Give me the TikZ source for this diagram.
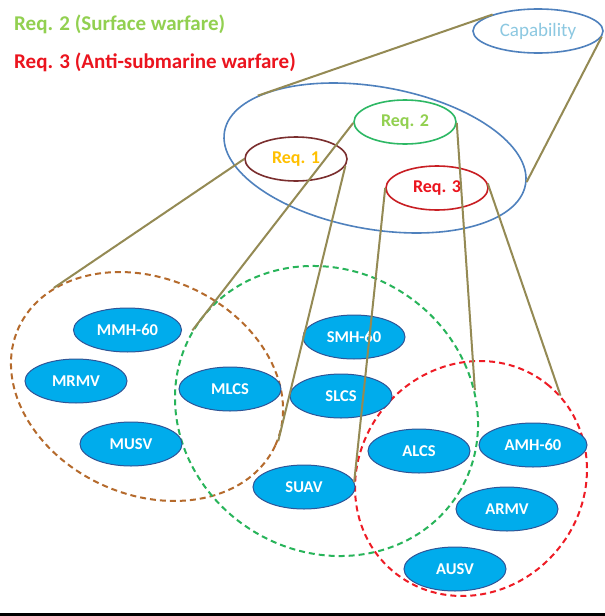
\documentclass[tikz,border=0pt]{standalone}
\usepackage{fontspec}
\setmainfont{Carlito}
\usetikzlibrary{shapes.geometric}

\definecolor{linkolive}{RGB}{148,138,84}
\definecolor{capblue}{RGB}{79,129,189}
\definecolor{captext}{RGB}{140,200,225}
\definecolor{airring}{RGB}{122,46,46}
\definecolor{airtext}{RGB}{255,192,0}
\definecolor{surfring}{RGB}{45,184,100}
\definecolor{surftext}{RGB}{146,208,80}
\definecolor{asuwring}{RGB}{200,30,35}
\definecolor{asuwtext}{RGB}{235,20,30}
\definecolor{airdash}{RGB}{181,106,44}
\definecolor{surfdash}{RGB}{40,180,90}
\definecolor{asuwdash}{RGB}{238,28,37}
\definecolor{assetfill}{RGB}{0,172,236}
\definecolor{assetedge}{RGB}{47,85,151}

\begin{document}
\begin{tikzpicture}[x=1pt,y=-1pt,
  connector/.style={draw=linkolive, line width=2pt},
  reqring/.style={ellipse, draw, line width=1.6pt, minimum width=102, minimum height=44,
    inner sep=0pt, font=\bfseries\fontsize{18}{18}\selectfont},
  groupring/.style={ellipse, draw, line width=2pt, dash pattern=on 6pt off 4pt, inner sep=0pt},
  asset/.style={ellipse, fill=assetfill, draw=assetedge, line width=1pt,
    minimum width=102, minimum height=44, inner sep=0pt, text=white,
    font=\bfseries\fontsize{16.5}{16.5}\selectfont},
  legend/.style={anchor=west, inner sep=0pt, font=\bfseries\fontsize{21}{21}\selectfont}]

\useasboundingbox (0,0) rectangle (605,616);
\fill[white] (0,0) rectangle (605,616);

% legend
\node[legend, text=surftext] (legsurf) at (14,24) {Req. 2 (Surface warfare)};
\node[legend, text=asuwtext] (legasuw) at (14,62) {Req. 3 (Anti-submarine warfare)};

% capability and its requirement set
\node[ellipse, draw=capblue, line width=1.6pt, minimum width=130, minimum height=44,
  inner sep=0pt, text=captext, font=\fontsize{19}{19}\selectfont] (cap) at (538,31) {Capability};
\node[ellipse, draw=capblue, line width=1.6pt, minimum width=305.6, minimum height=142.4,
  inner sep=0pt, rotate=-10] (reqset) at (375,158) {};

\node[reqring, draw=airring, text=airtext] (req1) at (296,159) {Req. 1};
\node[reqring, draw=surfring, text=surftext] (req2) at (405,122) {Req. 2};
\node[reqring, draw=asuwring, text=asuwtext] (req3) at (437,188) {Req. 3};

% asset groups
\node[groupring, draw=airdash, minimum width=282.4, minimum height=216, rotate=-24.6] (airG) at (147,386.5) {};
\node[groupring, draw=surfdash, minimum width=311, minimum height=281.4, rotate=-32] (surfG) at (326.5,411) {};
\node[groupring, draw=asuwdash, minimum width=242.4, minimum height=224.2, rotate=49.8] (asuwG) at (471,478.5) {};

% assets
\node[asset, minimum width=108] (mmh) at (127.5,330) {MMH-60};
\node[asset] (mrmv) at (76,381) {MRMV};
\node[asset] (musv) at (131,444) {MUSV};
\node[asset] (mlcs) at (230,389) {MLCS};
\node[asset] (smh) at (354,337) {SMH-60};
\node[asset] (slcs) at (341,396) {SLCS};
\node[asset] (suav) at (304,487) {SUAV};
\node[asset] (alcs) at (419,451) {ALCS};
\node[asset, minimum width=108] (amh) at (533,445) {AMH-60};
\node[asset] (armv) at (507,509) {ARMV};
\node[asset] (ausv) at (455,569) {AUSV};

% projection lines
\draw[connector] (cap.160) -- (reqset.162);
\draw[connector] (cap.355) -- (reqset.1);
\draw[connector] (req1.180) -- (airG.158);
\draw[connector] (req1.352) -- (airG.2);
\draw[connector] (req2.181) -- (surfG.181);
\draw[connector] (req2.359) -- (surfG.40);
\draw[connector] (req3.180) -- (asuwG.132);
\draw[connector] (req3.5) -- (asuwG.353);

% bottom rule
\fill[black] (0,613) rectangle (605,616);
\end{tikzpicture}
\end{document}
